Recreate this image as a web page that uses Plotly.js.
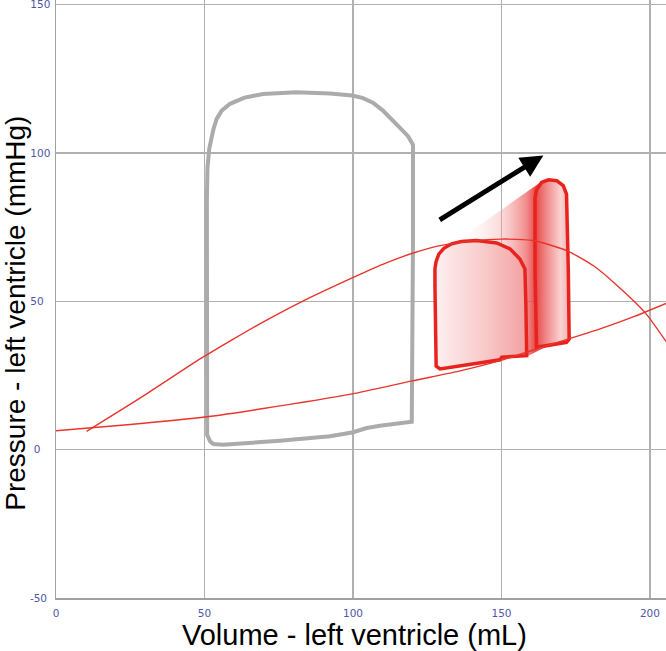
<!DOCTYPE html>
<html>
<head>
<meta charset="utf-8">
<script src="https://cdn.plot.ly/plotly-3.0.1.min.js"></script>
<style>
html,body{margin:0;padding:0;background:#fff;}
#chart{width:666px;height:651px;}
</style>
</head>
<body>
<div id="chart"></div>
<script>
// ---- Data ----
// Control pressure-volume loop (grey)
const greyLoopX = [50.8, 50.7, 50.9, 51.9, 53.0, 56.2, 64.0, 75.4, 92.3, 100.1, 104.6, 109.1, 119.8, 120.0, 120.2, 120.2, 118.6, 116.0, 113.0, 110.0, 106.7, 103.2, 99.7, 92.3, 81.0, 69.7, 63.5, 58.6, 55.8, 54.1, 53.0, 52.2, 51.6, 51.0, 50.8];
const greyLoopY = [84.0, 40.0, 5.0, 2.8, 1.9, 1.7, 2.2, 3.0, 4.5, 5.9, 7.3, 8.1, 9.4, 30.0, 70.0, 102.8, 105.6, 108.3, 111.3, 114.4, 117.0, 118.6, 119.4, 120.1, 120.5, 119.9, 118.7, 116.6, 114.3, 111.5, 108.0, 104.5, 101.4, 95.0, 84.0];

// End-systolic relation (concave red curve)
const espvrX = [10.3, 30.0, 48.5, 59.7, 70.0, 83.3, 100.1, 110.0, 120.3, 129.3, 140.0, 150.0, 160.6, 172.0, 181.0, 189.0, 198.3, 205.4];
const espvrY = [6.2, 18.5, 30.6, 37.3, 43.2, 50.2, 58.1, 62.5, 66.3, 68.8, 70.4, 71.0, 70.5, 67.1, 62.0, 55.3, 46.3, 36.5];

// End-diastolic relation (convex red curve)
const edpvrX = [0.0, 25.0, 50.8, 68.7, 99.7, 119.9, 135.0, 149.5, 165.0, 183.2, 195.0, 205.4];
const edpvrY = [6.4, 8.5, 11.1, 13.7, 18.8, 23.2, 26.3, 30.0, 35.0, 40.7, 45.0, 49.3];

// First red loop (front)
const redLoop1X = [127.6, 127.6, 128.0, 128.9, 130.6, 133.2, 136.5, 141.6, 148.4, 152.9, 156.2, 157.9, 158.2, 158.7, 158.5, 150.1, 149.5, 129.3, 128.0, 127.6];
const redLoop1Y = [55.3, 61.0, 63.5, 65.9, 67.9, 69.4, 70.2, 70.5, 69.7, 67.7, 64.3, 60.9, 49.7, 34.0, 31.7, 31.2, 30.3, 27.2, 28.2, 55.3];

// Second red loop (back, shifted right)
const redLoop2X = [161.3, 161.3, 161.8, 163.5, 165.8, 168.6, 170.8, 171.9, 172.5, 172.8, 171.9, 166.3, 161.8, 161.3];
const redLoop2Y = [60.0, 85.0, 87.6, 90.1, 91.0, 90.7, 89.0, 86.2, 60.9, 37.3, 36.2, 35.3, 34.5, 60.0];

// Swept trail between the loops
const trailX = [134.9, 162.0, 163.5, 165.8, 168.6, 170.8, 171.9, 172.5, 172.8, 166.3, 158.5, 145.0, 134.9];
const trailY = [70.3, 89.6, 90.4, 91.0, 90.7, 89.0, 86.2, 60.9, 37.3, 35.3, 31.4, 50.0, 70.3];

// Arrow (tail, head)
const arrowTail = [128.7, 77.2];
const arrowHead = [164.1, 99.2];

// Ticks
const xTicks = [0, 50, 100, 150, 200];
const xTickText = ['0', '50', '100', '150', '200'];
const yTicks = [-50, 0, 50, 100, 150];
const yTickText = ['-50\u2008', '0\u2007\u2008', '50\u2007', '100', '150'];

const xTitle = 'Volume - left ventricle (mL)';
const yTitle = 'Pressure - left ventricle (mmHg)';

// ---- Traces ----
const traces = [
  {x: greyLoopX, y: greyLoopY, mode: 'lines', type: 'scatter',
   line: {color: '#ababab', width: 4}, hoverinfo: 'skip'},
  {x: trailX, y: trailY, mode: 'lines', type: 'scatter', fill: 'toself',
   line: {width: 0, color: 'rgba(0,0,0,0)'},
   fillgradient: {type: 'horizontal', start: 134.9, stop: 172.8,
     colorscale: [[0, 'rgba(255,235,235,0)'], [0.4, 'rgba(245,160,160,0.4)'],
                  [0.62, 'rgba(236,90,90,0.7)'], [0.7, 'rgba(230,55,55,0.9)'],
                  [1, 'rgba(240,140,140,0.7)']]},
   hoverinfo: 'skip'},
  {x: redLoop2X, y: redLoop2Y, mode: 'lines', type: 'scatter', fill: 'toself',
   line: {color: '#e8231e', width: 3.5},
   fillgradient: {type: 'horizontal', start: 161.3, stop: 172.8,
     colorscale: [[0, 'rgb(232,70,70)'], [0.35, 'rgb(242,140,140)'], [0.75, 'rgb(249,210,210)'], [1, 'rgb(244,175,175)']]},
   hoverinfo: 'skip'},
  {x: redLoop1X, y: redLoop1Y, mode: 'lines', type: 'scatter', fill: 'toself',
   line: {color: '#e8231e', width: 3.5},
   fillgradient: {type: 'horizontal', start: 127.6, stop: 158.7,
     colorscale: [[0, 'rgb(253,240,240)'], [0.5, 'rgb(249,205,205)'], [1, 'rgb(243,160,160)']]},
   hoverinfo: 'skip'},
  {x: espvrX, y: espvrY, mode: 'lines', type: 'scatter', line: {color: '#e8342c', width: 1.4, shape: 'spline', smoothing: 0.6}, hoverinfo: 'skip'},
  {x: edpvrX, y: edpvrY, mode: 'lines', type: 'scatter', line: {color: '#e8342c', width: 1.4, shape: 'spline', smoothing: 0.6}, hoverinfo: 'skip'}
];

const gridColor = '#b0b0b0';
const tickFont = {family: 'DejaVu Sans, Verdana, sans-serif', size: 10.5, color: '#4f55a8'};

const layout = {
  width: 666, height: 651,
  margin: {l: 56, r: 0, t: 0, b: 53, pad: 0},
  paper_bgcolor: '#ffffff', plot_bgcolor: '#ffffff',
  showlegend: false,
  xaxis: {
    range: [0, 205.4], tickvals: xTicks, ticktext: xTickText,
    showgrid: true, gridcolor: gridColor, gridwidth: 1.2,
    zeroline: false, showline: true, linecolor: '#a0a0a0', linewidth: 1.5,
    ticks: 'outside', ticklen: 5, tickcolor: 'rgba(0,0,0,0)',
    tickfont: tickFont, fixedrange: true
  },
  yaxis: {
    range: [-50, 151.6], tickvals: yTicks, ticktext: yTickText,
    showgrid: true, gridcolor: gridColor, gridwidth: 1.2,
    zeroline: true, zerolinecolor: gridColor, zerolinewidth: 1.2,
    showline: true, linecolor: '#a0a0a0', linewidth: 1.5,
    ticks: 'outside', ticklen: 2, tickcolor: 'rgba(0,0,0,0)',
    tickfont: tickFont, ticklabeloverflow: 'allow', fixedrange: true
  },
  annotations: [
    {x: arrowHead[0], y: arrowHead[1], ax: arrowTail[0], ay: arrowTail[1],
     xref: 'x', yref: 'y', axref: 'x', ayref: 'y', text: '', showarrow: true,
     arrowhead: 2, arrowsize: 0.9, arrowwidth: 5, arrowcolor: '#000000', standoff: 0, startstandoff: 0},
    {text: xTitle, xref: 'paper', yref: 'paper', x: 0.49, y: -0.062, xanchor: 'center', yanchor: 'middle',
     showarrow: false, font: {family: 'Liberation Sans, Arial, sans-serif', size: 29, color: '#000000'}},
    {text: yTitle, xref: 'paper', yref: 'paper', x: -0.0656, y: 0.477, xanchor: 'center', yanchor: 'middle',
     textangle: -90, showarrow: false, font: {family: 'Liberation Sans, Arial, sans-serif', size: 28, color: '#000000'}}
  ]
};

Plotly.newPlot('chart', traces, layout, {staticPlot: true, displayModeBar: false});
</script>
</body>
</html>
